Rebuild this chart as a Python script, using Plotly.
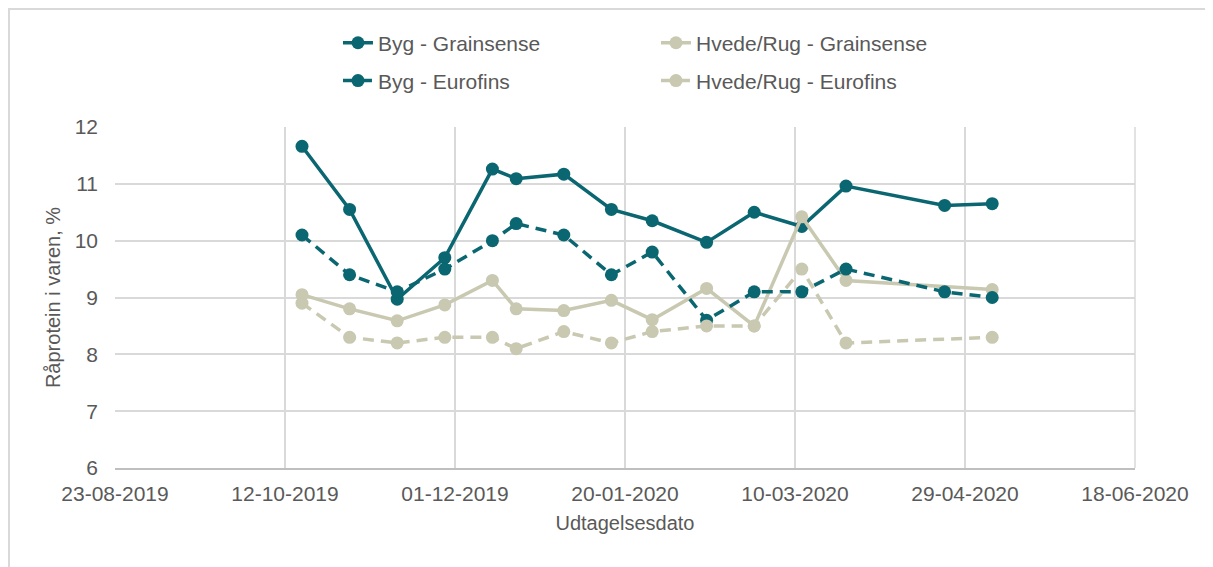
import plotly.graph_objects as go

TEAL = "#0a6670"
BEIGE = "#c9c8b1"
TEXT = "#595959"
GRID = "#d9d9d9"

byg_grain_dates = [
    "2019-10-17", "2019-10-31", "2019-11-14", "2019-11-28", "2019-12-12",
    "2019-12-19", "2020-01-02", "2020-01-16", "2020-01-28", "2020-02-13",
    "2020-02-27", "2020-03-12", "2020-03-25", "2020-04-23", "2020-05-07",
]
byg_grain = [11.66, 10.55, 8.97, 9.70, 11.26, 11.09, 11.17, 10.55, 10.35, 9.97,
             10.50, 10.25, 10.96, 10.62, 10.65]

hvede_grain_dates = [
    "2019-10-17", "2019-10-31", "2019-11-14", "2019-11-28", "2019-12-12",
    "2019-12-19", "2020-01-02", "2020-01-16", "2020-01-28", "2020-02-13",
    "2020-02-27", "2020-03-12", "2020-03-25", "2020-05-07",
]
hvede_grain = [9.05, 8.80, 8.59, 8.87, 9.30, 8.80, 8.77, 8.95, 8.61, 9.16,
               8.50, 10.42, 9.30, 9.14]

byg_euro_dates = byg_grain_dates
byg_euro = [10.1, 9.4, 9.1, 9.5, 10.0, 10.3, 10.1, 9.4, 9.8, 8.6,
            9.1, 9.1, 9.5, 9.1, 9.0]

hvede_euro_dates = hvede_grain_dates
hvede_euro = [8.9, 8.3, 8.2, 8.3, 8.3, 8.1, 8.4, 8.2, 8.4, 8.5,
              8.5, 9.5, 8.2, 8.3]

series = [
    ("Byg - Grainsense", byg_grain_dates, byg_grain, TEAL, "solid", "legend"),
    ("Hvede/Rug - Grainsense", hvede_grain_dates, hvede_grain, BEIGE, "solid", "legend"),
    ("Byg - Eurofins", byg_euro_dates, byg_euro, TEAL, "11px,7px", "legend2"),
    ("Hvede/Rug - Eurofins", hvede_euro_dates, hvede_euro, BEIGE, "11px,7px", "legend2"),
]

fig = go.Figure()
for name, xs, ys, color, dash, leg in series:
    fig.add_trace(go.Scatter(
        x=xs, y=ys, name=name, mode="lines+markers",
        line=dict(color=color, width=3.5, dash=dash),
        marker=dict(color=color, size=13),
        legend=leg,
    ))

font = dict(family="Liberation Sans, Arial, sans-serif", size=20, color=TEXT)
tickfont = dict(family="Liberation Sans, Arial, sans-serif", size=21, color=TEXT)
leg_common = dict(
    orientation="h", xanchor="left", yanchor="middle",
    font=dict(family="Liberation Sans, Arial, sans-serif", size=21, color=TEXT),
    entrywidth=273, bgcolor="rgba(0,0,0,0)", traceorder="normal",
)

# page has an 8px body margin, so the figure is 8px smaller than the window
fig.update_layout(
    width=1205, height=559,
    margin=dict(l=107, r=78, t=119, b=99),
    paper_bgcolor="white", plot_bgcolor="white",
    font=font,
    showlegend=True,
    legend=dict(x=0.2186, y=1.246, **leg_common),
    legend2=dict(x=0.2186, y=1.135, **leg_common),
    xaxis=dict(
        type="date",
        range=["2019-08-23", "2020-06-18"],
        tick0="2019-08-23", dtick=50 * 86400000,
        tickformat="%d-%m-%Y", tickfont=tickfont,
        showgrid=True, gridcolor=GRID, gridwidth=1.5,
        showline=True, linecolor="#bfbfbf", linewidth=1.5,
        ticks="", ticklabelstandoff=6,
        title=dict(text="Udtagelsesdato", standoff=12, font=font),
        zeroline=False,
    ),
    yaxis=dict(
        range=[6, 12], dtick=1, tickfont=tickfont,
        showgrid=True, gridcolor=GRID, gridwidth=1.5,
        showline=False, zeroline=False,
        ticks="", ticklabelstandoff=16,
        title=dict(text="Råprotein i varen, %", standoff=8, font=font),
    ),
    shapes=[
        dict(type="line", xref="paper", yref="paper", x0=1, x1=1, y0=0, y1=1,
             line=dict(color=GRID, width=1.5), layer="below"),
        dict(type="rect", xref="paper", yref="paper",
             x0=-0.1039, x1=1.0725, y0=-0.35, y1=1.3460,
             line=dict(color=GRID, width=2), layer="below"),
    ],
)

fig.write_html("out.html")
